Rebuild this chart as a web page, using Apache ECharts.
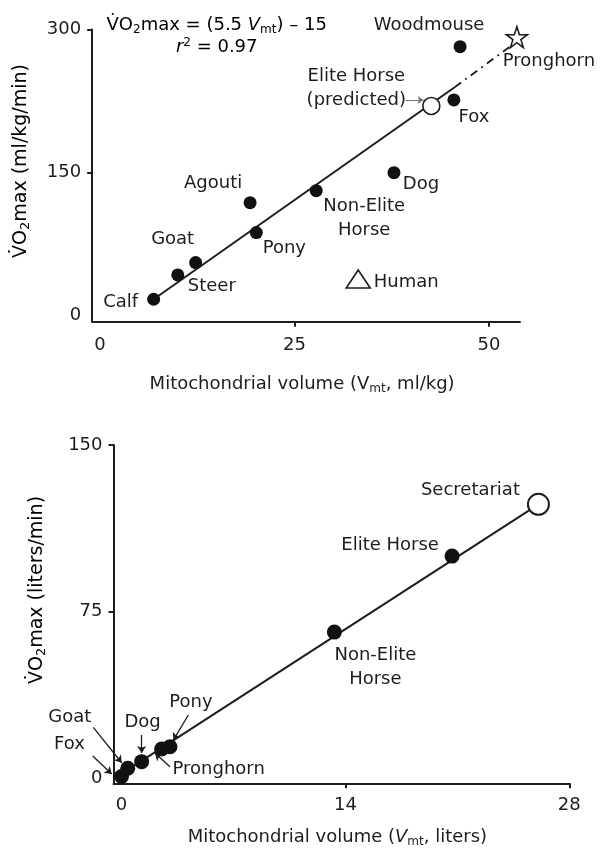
<!DOCTYPE html>
<html>
<head>
<meta charset="utf-8">
<script src="https://cdn.jsdelivr.net/npm/echarts@6/dist/echarts.min.js"></script>
<style>html,body{margin:0;padding:0;background:#fff}#c{width:602px;height:850px}</style>
</head>
<body>
<div id="c"></div>
<script>
// ---------- TOP PANEL DATA (ml/kg, ml/kg/min) ----------
const topSpecies = ['Calf', 'Steer', 'Goat', 'Agouti', 'Pony', 'Non-Elite\nHorse', 'Dog', 'Fox', 'Woodmouse'];
const topVmt     = [6.9, 10.0, 12.3, 19.3, 20.1, 27.8, 37.8, 45.5, 46.3];
const topVO2     = [16.6, 42.1, 55.1, 118.1, 86.6, 130.7, 149.6, 226, 282];
const humanPoint = [33.2, 37.9];
const eliteHorsePredicted = [42.6, 219.7];
const pronghornPoint = [53.6, 291.9];
const topFitVmt  = [6.9, 45.6, 52.7];   // solid part: first two, dash-dot: last two
const topFitVO2  = [16.6, 239.3, 282];
const topXTicks  = [0, 25, 50];
const topYTicks  = [0, 150, 300];
const predictedArrow = [[39.3, 226], [41.6, 226]];

// ---------- BOTTOM PANEL DATA (liters, liters/min) ----------
const bottomSpecies = ['Fox', 'Goat', 'Dog', 'Pronghorn', 'Pony', 'Non-Elite\nHorse', 'Elite Horse'];
const bottomVmt     = [0.0, 0.39, 1.26, 2.51, 3.03, 13.31, 20.67];
const bottomVO2     = [0.8, 4.5, 7.5, 13.2, 14.2, 65.8, 100.0];
const secretariatPoint = [26.07, 123.3];
const bottomFitVmt  = [0, 26.07];
const bottomFitVO2  = [2, 123.3];
const bottomXTicks  = [0, 14, 28];
const bottomYTicks  = [0, 75, 150];
const bottomArrowNames = ['Goat', 'Fox', 'Dog', 'Pony', 'Pronghorn'];
const bottomArrowFrom  = [[-1.76, 22.95], [-1.80, 10.0], [1.26, 19.5], [4.18, 28.5], [3.03, 5.2]];
const bottomArrowTo    = [[0.01, 7.0], [-0.61, 1.9], [1.26, 11.4], [3.24, 17.2], [2.10, 11.25]];

// ---------- STYLE ----------
const INK = '#1f1c1d';
const FONT = 'DejaVu Sans';
const FS = 18;
const topLabelOffset = {
  'Calf': [-33, 3], 'Steer': [34, 11], 'Goat': [-23, -23], 'Agouti': [-37, -19],
  'Pony': [28, 16], 'Non-Elite\nHorse': [48, 28], 'Dog': [27, 12], 'Fox': [20, 17],
  'Woodmouse': [-31, -21]
};
const bottomLabelOffset = {
  'Fox': [-52, -32], 'Goat': [-58, -51], 'Dog': [1, -39], 'Pronghorn': [57, 20],
  'Pony': [21, -44], 'Non-Elite\nHorse': [41, 35], 'Elite Horse': [-62, -11]
};
const rich = {
  t: { fontFamily: FONT, fontSize: FS, color: INK },
  i: { fontFamily: FONT, fontSize: FS, color: INK, fontStyle: 'italic' },
  s: { fontFamily: FONT, fontSize: 12, color: INK, padding: [9, 0, 0, 0] },
  sup: { fontFamily: FONT, fontSize: 12, color: INK, padding: [0, 0, 9, 0] }
};
const richTitle = {
  t: { fontFamily: FONT, fontSize: 19, color: INK },
  s: { fontFamily: FONT, fontSize: 13, color: INK, padding: [9, 0, 0, 0] }
};
const starPath = 'path://M50,2 L61.5,37 L98,37 L68.5,58.5 L79.5,94 L50,72 L20.5,94 L31.5,58.5 L2,37 L38.5,37 Z';

function labelStyle(off) {
  return { show: true, position: 'inside', offset: off, formatter: '{b}', color: INK, opacity: 1,
           fontFamily: FONT, fontSize: FS, lineHeight: 24, align: 'center' };
}

function axisCommon(ticks, tickVals, margin) {
  return {
    type: 'value',
    axisLine: { show: true, onZero: false, lineStyle: { color: INK, width: 2 } },
    axisTick: { show: true, length: 5, inside: false, customValues: tickVals, lineStyle: { color: INK, width: 2 } },
    axisLabel: { customValues: ticks, color: INK, fontFamily: FONT, fontSize: FS, margin: margin },
    splitLine: { show: false }
  };
}

const chart = echarts.init(document.getElementById('c'), null, { renderer: 'canvas' });

const option = {
  backgroundColor: '#fff',
  animation: false,
  grid: [
    { left: 92.2, right: 82, top: 29.5, height: 292.2, containLabel: false },
    { left: 113.5, right: 32.7, top: 445, height: 338.3, containLabel: false }
  ],
  xAxis: [
    Object.assign(axisCommon(topXTicks, topXTicks.slice(1), 15), {
      gridIndex: 0, min: -1, max: 54,
      name: '{t|Mitochondrial volume (V}{s|mt}{t|, ml/kg)}',
      nameLocation: 'middle', nameGap: 52,
      nameTextStyle: { rich: rich, padding: [0, 8, 0, 0] }
    }),
    Object.assign(axisCommon(bottomXTicks, bottomXTicks.slice(1), 13), {
      gridIndex: 1, min: -0.5, max: 28,
      name: '{t|Mitochondrial volume (}{i|V}{s|mt}{t|, liters)}',
      nameLocation: 'middle', nameGap: 44,
      nameTextStyle: { rich: rich, padding: [0, 8, 0, 0] }
    })
  ],
  yAxis: [
    Object.assign(axisCommon(topYTicks, topYTicks.slice(1), 11), { gridIndex: 0, min: -7, max: 300 }),
    Object.assign(axisCommon(bottomYTicks, bottomYTicks.slice(1), 11), { gridIndex: 1, min: -2.25, max: 150 })
  ],
  graphic: [
    { type: 'text', x: 216.7, y: 25, style: { text: '{t|V\u0307O}{s|2}{t|max = (5.5 }{i|V}{s|mt}{t|) \u2013 15}', rich: rich, align: 'center', verticalAlign: 'middle' } },
    { type: 'text', x: 216.7, y: 47, style: { text: '{i|r}{sup|2}{t| = 0.97}', rich: rich, align: 'center', verticalAlign: 'middle' } },
    { type: 'text', x: 21, y: 161, rotation: Math.PI / 2, style: { text: '{t|V\u0307O}{s|2}{t|max (ml/kg/min)}', rich: richTitle, align: 'center', verticalAlign: 'middle' } },
    { type: 'text', x: 37, y: 590, rotation: Math.PI / 2, style: { text: '{t|V\u0307O}{s|2}{t|max (liters/min)}', rich: richTitle, align: 'center', verticalAlign: 'middle' } }
  ],
  series: [
    // ---- top panel ----
    { type: 'line', xAxisIndex: 0, yAxisIndex: 0, symbol: 'none', z: 2,
      data: [[topFitVmt[0], topFitVO2[0]], [topFitVmt[1], topFitVO2[1]]],
      lineStyle: { color: INK, width: 2 } },
    { type: 'line', xAxisIndex: 0, yAxisIndex: 0, symbol: 'none', z: 2,
      data: [[topFitVmt[1], topFitVO2[1]], [topFitVmt[2], topFitVO2[2]]],
      lineStyle: { color: INK, width: 1.8, type: [8, 5, 2, 5] } },
    { type: 'scatter', xAxisIndex: 0, yAxisIndex: 0, symbol: 'circle', symbolSize: 13, z: 5,
      itemStyle: { color: '#111', opacity: 1 },
      data: topSpecies.map((n, k) => ({ name: n, value: [topVmt[k], topVO2[k]], label: labelStyle(topLabelOffset[n]) })) },
    { type: 'scatter', xAxisIndex: 0, yAxisIndex: 0, symbol: 'triangle', symbolSize: [24, 18], z: 5,
      itemStyle: { color: '#fff', borderColor: INK, borderWidth: 1.6, opacity: 1 },
      data: [{ name: 'Human', value: humanPoint, label: labelStyle([48, 3]) }] },
    { type: 'scatter', xAxisIndex: 0, yAxisIndex: 0, symbol: 'circle', symbolSize: 17, z: 5,
      itemStyle: { color: '#fff', borderColor: INK, borderWidth: 1.6, opacity: 1 },
      data: [{ name: 'Elite Horse\n(predicted)', value: eliteHorsePredicted, label: labelStyle([-75, -18]) }] },
    { type: 'scatter', xAxisIndex: 0, yAxisIndex: 0, symbol: starPath, symbolSize: 21, z: 5,
      itemStyle: { color: '#fff', borderColor: INK, borderWidth: 1.6, opacity: 1 },
      data: [{ name: 'Pronghorn', value: pronghornPoint, label: labelStyle([32, 24]) }] },
    { type: 'lines', coordinateSystem: 'cartesian2d', xAxisIndex: 0, yAxisIndex: 0, clip: false, z: 4,
      symbol: ['none', 'arrow'], symbolSize: 6,
      lineStyle: { color: '#777', width: 1, opacity: 1 },
      data: [{ coords: predictedArrow }] },
    // ---- bottom panel ----
    { type: 'line', xAxisIndex: 1, yAxisIndex: 1, symbol: 'none', z: 2,
      data: [[bottomFitVmt[0], bottomFitVO2[0]], [bottomFitVmt[1], bottomFitVO2[1]]],
      lineStyle: { color: INK, width: 2 } },
    { type: 'scatter', xAxisIndex: 1, yAxisIndex: 1, symbol: 'circle', symbolSize: 15, z: 5,
      itemStyle: { color: '#111', opacity: 1 },
      data: bottomSpecies.map((n, k) => ({ name: n, value: [bottomVmt[k], bottomVO2[k]], label: labelStyle(bottomLabelOffset[n]) })) },
    { type: 'scatter', xAxisIndex: 1, yAxisIndex: 1, symbol: 'circle', symbolSize: 21, z: 5,
      itemStyle: { color: '#fff', borderColor: INK, borderWidth: 2, opacity: 1 },
      data: [{ name: 'Secretariat', value: secretariatPoint, label: labelStyle([-68, -14]) }] },
    { type: 'lines', coordinateSystem: 'cartesian2d', xAxisIndex: 1, yAxisIndex: 1, clip: false, z: 4,
      symbol: ['none', 'arrow'], symbolSize: 7,
      lineStyle: { color: INK, width: 1.3, opacity: 1 },
      data: bottomArrowNames.map((n, k) => ({ name: n, coords: [bottomArrowFrom[k], bottomArrowTo[k]] })) }
  ]
};
chart.setOption(option);
</script>
</body>
</html>
